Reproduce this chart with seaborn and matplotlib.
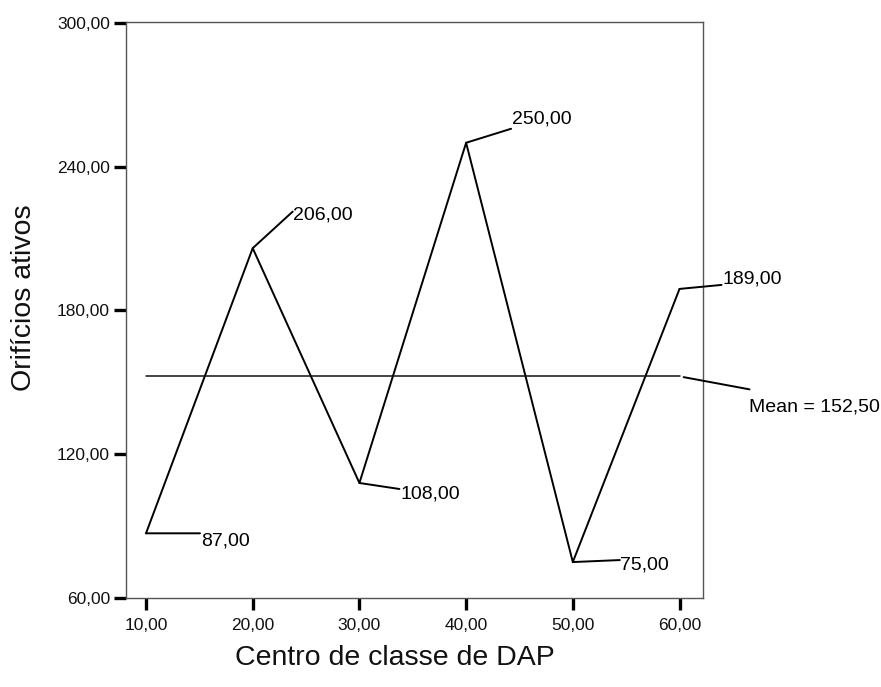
import numpy as np
import pandas as pd
import matplotlib
matplotlib.use("Agg")
import matplotlib.pyplot as plt
import seaborn as sns

# ---- data ----
centers = [10, 20, 30, 40, 50, 60]
orificios = [87, 206, 108, 250, 75, 189]
x_ticks = [10, 20, 30, 40, 50, 60]
y_ticks = [60, 120, 180, 240, 300]
x_label = "Centro de classe de DAP"
y_label = "Orifícios ativos"

df = pd.DataFrame({"x": centers, "y": orificios})
mean_val = float(np.mean(orificios))

def fmt(v):
    return f"{v:.2f}".replace(".", ",")

sns.set_style("ticks")
plt.rcParams["font.family"] = ["Liberation Sans", "DejaVu Sans"]

fig = plt.figure(figsize=(8.81, 6.87), dpi=100)
ax = fig.add_axes([126 / 881, 89 / 687, 577 / 881, 576 / 687])

sns.lineplot(data=df, x="x", y="y", ax=ax, color="black", linewidth=1.4,
             marker=None, sort=False)
ax.plot([centers[0], centers[-1]], [mean_val, mean_val], color="#111111", linewidth=1.1)

ax.set_xlim(8.125, 62.2)
ax.set_ylim(60, 300.4)
ax.set_xticks(x_ticks)
ax.set_yticks(y_ticks)
ax.set_xticklabels([fmt(v) for v in x_ticks])
ax.set_yticklabels([fmt(v) for v in y_ticks])
ax.tick_params(axis="both", direction="out", length=8.5, width=2.4, color="black",
               labelsize=12.5, labelcolor="#111111", bottom=True, left=True,
               top=False, right=False)
ax.tick_params(axis="y", pad=3)
ax.tick_params(axis="x", pad=6)
for s in ax.spines.values():
    s.set_visible(True)
    s.set_color("#555555")
    s.set_linewidth(1.0)
ax.set_xlabel("")
ax.set_ylabel("")

fig.text(394.5 / 881, 22 / 687, x_label, ha="center", va="baseline", fontsize=20.5,
         color="#111111")
fig.text(24 / 881, (687 - 297.5) / 687, y_label, ha="center", va="center",
         rotation=90, fontsize=20.5, color="#111111")

# annotation leaders: (leader dx, dy) and (text dx, baseline dy) in pixels, y up
offsets = [
    ((54, 0), (55, -12)),
    ((40, 36.6), (40, 28.6)),
    ((40, -6), (41, -16)),
    ((45, 14), (46, 19)),
    ((47, 2), (47, -7)),
    ((42, 4), (43, 5)),
]
for (xv, yv), (lead, txt) in zip(zip(centers, orificios), offsets):
    ax.annotate("", xy=(xv, yv), xytext=lead, textcoords="offset pixels",
                arrowprops=dict(arrowstyle="-", shrinkA=0, shrinkB=0, lw=1.4,
                                color="black"), annotation_clip=False)
    ax.annotate(fmt(yv), xy=(xv, yv), xytext=txt, textcoords="offset pixels",
                ha="left", va="baseline", fontsize=14, color="black",
                annotation_clip=False)

ax.annotate("", xy=(centers[-1], mean_val), xytext=(70, -13), textcoords="offset pixels",
            arrowprops=dict(arrowstyle="-", shrinkA=0, shrinkB=3, lw=1.4, color="black"),
            annotation_clip=False)
ax.annotate("Mean = " + fmt(mean_val), xy=(centers[-1], mean_val), xytext=(69, -35),
            textcoords="offset pixels", ha="left", va="baseline", fontsize=14,
            color="black", annotation_clip=False)

fig.savefig("out.png", dpi=100)
